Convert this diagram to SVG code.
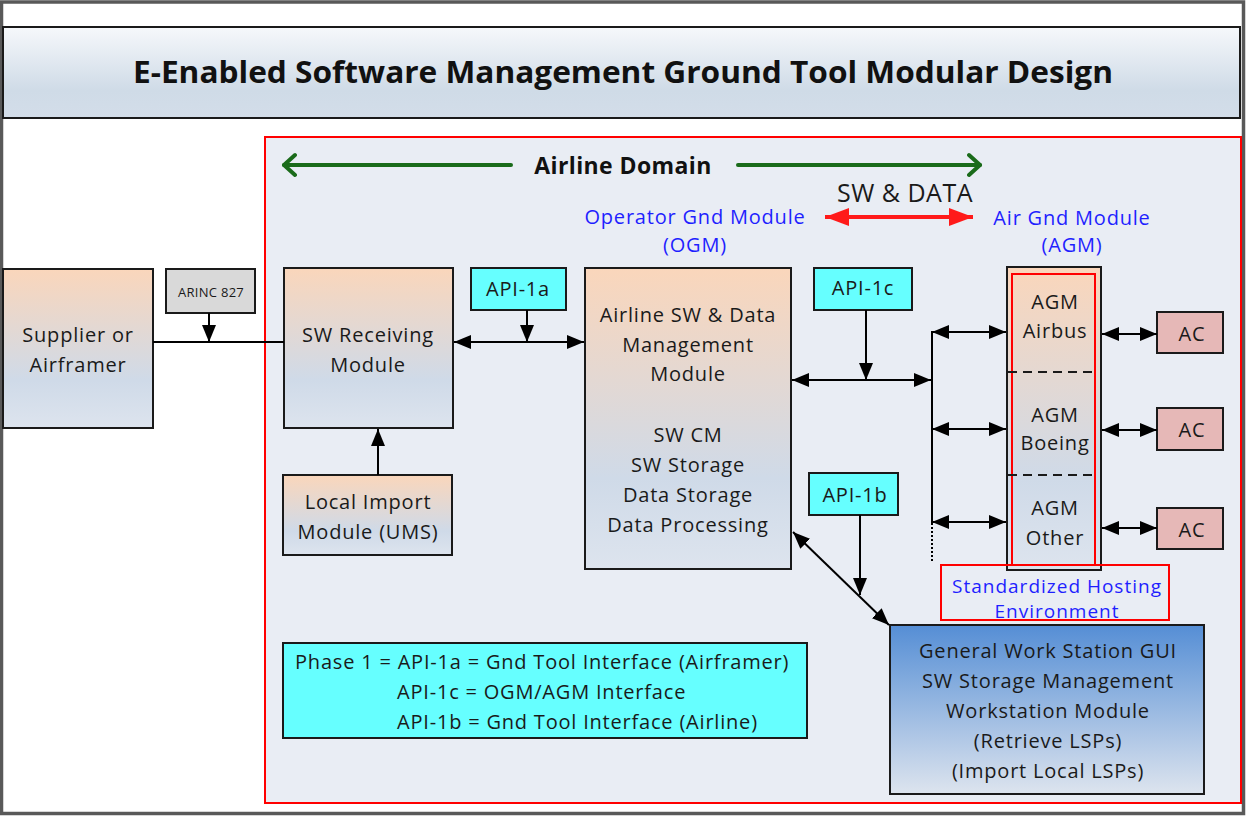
<svg xmlns="http://www.w3.org/2000/svg" width="1246" height="816" viewBox="0 0 1246 816">
<defs>
<style>
.t{font-family:"Open Sans","Noto Sans","Liberation Sans",sans-serif;font-size:20px;fill:#1a1a1a;text-anchor:middle;letter-spacing:0.8px}
.b{fill:#1f1fff}
.box{stroke:#1a1a1a;stroke-width:2}
.ln{stroke:#000;stroke-width:2;fill:none}
.api{fill:#66ffff;stroke:#1a1a1a;stroke-width:2}
.ac{fill:#e6b8b7;stroke:#1a1a1a;stroke-width:2}
</style>
<linearGradient id="pb" x1="0" y1="0" x2="0" y2="1">
<stop offset="0" stop-color="#fad6bb"/>
<stop offset="0.7" stop-color="#cfdae8"/>
<stop offset="1" stop-color="#dde4ee"/>
</linearGradient>
<linearGradient id="gui" x1="0" y1="0" x2="0" y2="1">
<stop offset="0" stop-color="#558ed5"/>
<stop offset="1" stop-color="#dde4ee"/>
</linearGradient>
<linearGradient id="tg" x1="0" y1="0" x2="0" y2="1">
<stop offset="0" stop-color="#f6f8fb"/>
<stop offset="0.7" stop-color="#cfdbe7"/>
<stop offset="1" stop-color="#d3dde9"/>
</linearGradient>
<marker id="ah" markerUnits="userSpaceOnUse" markerWidth="18" markerHeight="14" refX="17" refY="7" orient="auto-start-reverse">
<path d="M0,0 L17,7 L0,14 z" fill="#000"/>
</marker>
<marker id="rh" markerUnits="userSpaceOnUse" markerWidth="25" markerHeight="18" refX="24" refY="9" orient="auto-start-reverse">
<path d="M0,0 L24,9 L0,18 z" fill="#ff1a1a"/>
</marker>
<marker id="gh" markerUnits="userSpaceOnUse" markerWidth="16" markerHeight="26" refX="13" refY="13" orient="auto-start-reverse">
<path d="M2,3 L13,13 L2,23" fill="none" stroke="#1a6b1a" stroke-width="4" stroke-linecap="round" stroke-linejoin="round"/>
</marker>
</defs>

<rect x="0" y="0" width="1246" height="816" fill="#ffffff"/>
<rect x="1.5" y="2" width="1242" height="811.5" fill="none" stroke="#595959" stroke-width="3.5"/>

<g id="title">
<rect x="3" y="27" width="1237" height="91" fill="url(#tg)" stroke="#1a1a1a" stroke-width="2"/>
<text x="623" y="83" font-family="'Open Sans','Noto Sans','Liberation Sans',sans-serif" font-size="30" font-weight="bold" fill="#111" text-anchor="middle" textLength="980" lengthAdjust="spacingAndGlyphs">E-Enabled Software Management Ground Tool Modular Design</text>
</g>

<g id="airline-domain">
<rect x="265" y="137" width="976" height="666" fill="#e9edf4" stroke="#ff0000" stroke-width="2"/>
<text x="623" y="174" class="t" style="font-weight:bold;font-size:23px;letter-spacing:0.4px;fill:#111">Airline Domain</text>
</g>

<g id="supplier">
<rect x="3" y="269" width="150" height="159" fill="url(#pb)" class="box"/>
<text class="t" x="78" y="342">Supplier or</text>
<text class="t" x="78" y="372">Airframer</text>
</g>

<g id="arinc">
<rect x="166" y="269" width="89" height="44" fill="#d9d9d9" class="box"/>
<text class="t" x="211" y="297" style="font-size:13px;letter-spacing:0.3px">ARINC 827</text>
</g>

<g id="sw-receiving">
<rect x="284" y="268" width="169" height="160" fill="url(#pb)" class="box"/>
<text class="t" x="368" y="342">SW Receiving</text>
<text class="t" x="368" y="372">Module</text>
</g>

<g id="local-import">
<rect x="283" y="475" width="169" height="80" fill="url(#pb)" class="box"/>
<text class="t" x="368" y="509">Local Import</text>
<text class="t" x="368" y="539">Module (UMS)</text>
</g>

<g id="api-1a">
<rect x="471" y="268" width="95" height="42" class="api"/>
<text class="t" x="518" y="296">API-1a</text>
</g>

<g id="ogm-label">
<text class="t b" x="695" y="224">Operator Gnd Module</text>
<text class="t b" x="695" y="252">(OGM)</text>
</g>

<g id="ogm">
<rect x="585" y="268" width="206" height="301" fill="url(#pb)" class="box"/>
<text class="t" x="688" y="322">Airline SW &amp; Data</text>
<text class="t" x="688" y="352">Management</text>
<text class="t" x="688" y="381">Module</text>
<text class="t" x="688" y="442">SW CM</text>
<text class="t" x="688" y="472">SW Storage</text>
<text class="t" x="688" y="502">Data Storage</text>
<text class="t" x="688" y="532">Data Processing</text>
</g>

<g id="sw-data">
<text class="t" x="905" y="202" style="font-size:25px;letter-spacing:0.5px">SW &amp; DATA</text>
</g>

<g id="api-1c">
<rect x="814" y="268" width="98" height="42" class="api"/>
<text class="t" x="863" y="295">API-1c</text>
</g>

<g id="agm-label">
<text class="t b" x="1072" y="225">Air Gnd Module</text>
<text class="t b" x="1072" y="252">(AGM)</text>
</g>

<g id="agm">
<rect x="1007" y="267" width="94" height="303" fill="url(#pb)" class="box"/>
<rect x="1012" y="274" width="83" height="291" fill="none" stroke="#ff0000" stroke-width="2"/>
<path d="M1008,372 H1094 M1008,475 H1094" stroke="#1a1a1a" stroke-width="2" stroke-dasharray="9,6"/>
<text class="t" x="1055" y="309">AGM</text>
<text class="t" x="1055" y="338">Airbus</text>
<text class="t" x="1055" y="422">AGM</text>
<text class="t" x="1055" y="450">Boeing</text>
<text class="t" x="1055" y="515">AGM</text>
<text class="t" x="1055" y="545">Other</text>
</g>

<g id="ac-1">
<rect x="1157" y="312" width="66" height="41" class="ac"/>
<text class="t" x="1192" y="341">AC</text>
</g>
<g id="ac-2">
<rect x="1157" y="408" width="66" height="42" class="ac"/>
<text class="t" x="1192" y="437">AC</text>
</g>
<g id="ac-3">
<rect x="1157" y="508" width="66" height="41" class="ac"/>
<text class="t" x="1192" y="537">AC</text>
</g>

<g id="hosting">
<rect x="941" y="565" width="228" height="55" fill="none" stroke="#ff0000" stroke-width="2"/>
<text class="t b" x="1057" y="593" style="font-size:19px;letter-spacing:1px">Standardized Hosting</text>
<text class="t b" x="1057" y="618" style="font-size:19px;letter-spacing:1px">Environment</text>
</g>

<g id="api-1b">
<rect x="809" y="473" width="89" height="42" class="api"/>
<text class="t" x="855" y="502">API-1b</text>
</g>

<g id="gui">
<rect x="890" y="625" width="314" height="169" fill="url(#gui)" class="box"/>
<text class="t" x="1048" y="658">General Work Station GUI</text>
<text class="t" x="1048" y="688">SW Storage Management</text>
<text class="t" x="1048" y="718">Workstation Module</text>
<text class="t" x="1048" y="748">(Retrieve LSPs)</text>
<text class="t" x="1048" y="778">(Import Local LSPs)</text>
</g>

<g id="phase">
<rect x="283" y="643" width="524" height="95" class="api"/>
<text class="t" x="295" y="669" style="text-anchor:start">Phase 1 = API-1a = Gnd Tool Interface (Airframer)</text>
<text class="t" x="397" y="699" style="text-anchor:start">API-1c = OGM/AGM Interface</text>
<text class="t" x="397" y="729" style="text-anchor:start">API-1b = Gnd Tool Interface (Airline)</text>
</g>

<g id="connectors">
<path class="ln" d="M153,342 H284"/>
<path class="ln" d="M209,313 V342" marker-end="url(#ah)"/>
<path class="ln" d="M378,475 V429" marker-end="url(#ah)"/>
<path class="ln" d="M454,342 H584" marker-start="url(#ah)" marker-end="url(#ah)"/>
<path class="ln" d="M527,310 V342" marker-end="url(#ah)"/>
<path class="ln" d="M792,380 H931" marker-start="url(#ah)" marker-end="url(#ah)"/>
<path class="ln" d="M866,310 V380" marker-end="url(#ah)"/>
<path class="ln" d="M932,331 V523"/>
<path d="M932,523 V562" stroke="#000" stroke-width="2" stroke-dasharray="2,2" fill="none"/>
<path class="ln" d="M932,332 H1006" marker-start="url(#ah)" marker-end="url(#ah)"/>
<path class="ln" d="M932,429 H1006" marker-start="url(#ah)" marker-end="url(#ah)"/>
<path class="ln" d="M932,522 H1006" marker-start="url(#ah)" marker-end="url(#ah)"/>
<path class="ln" d="M1102,334 H1157" marker-start="url(#ah)" marker-end="url(#ah)"/>
<path class="ln" d="M1102,430 H1157" marker-start="url(#ah)" marker-end="url(#ah)"/>
<path class="ln" d="M1102,528 H1157" marker-start="url(#ah)" marker-end="url(#ah)"/>
<path class="ln" d="M860,515 V595" marker-end="url(#ah)"/>
<path class="ln" d="M793,532 L889,625" marker-start="url(#ah)" marker-end="url(#ah)"/>
<path d="M511,165 H284" stroke="#1a6b1a" stroke-width="4" stroke-linecap="round" fill="none" marker-end="url(#gh)"/>
<path d="M738,165 H980" stroke="#1a6b1a" stroke-width="4" stroke-linecap="round" fill="none" marker-end="url(#gh)"/>
<path d="M825,217 H973" stroke="#ff1a1a" stroke-width="4" fill="none" marker-start="url(#rh)" marker-end="url(#rh)"/>
</g>
</svg>
